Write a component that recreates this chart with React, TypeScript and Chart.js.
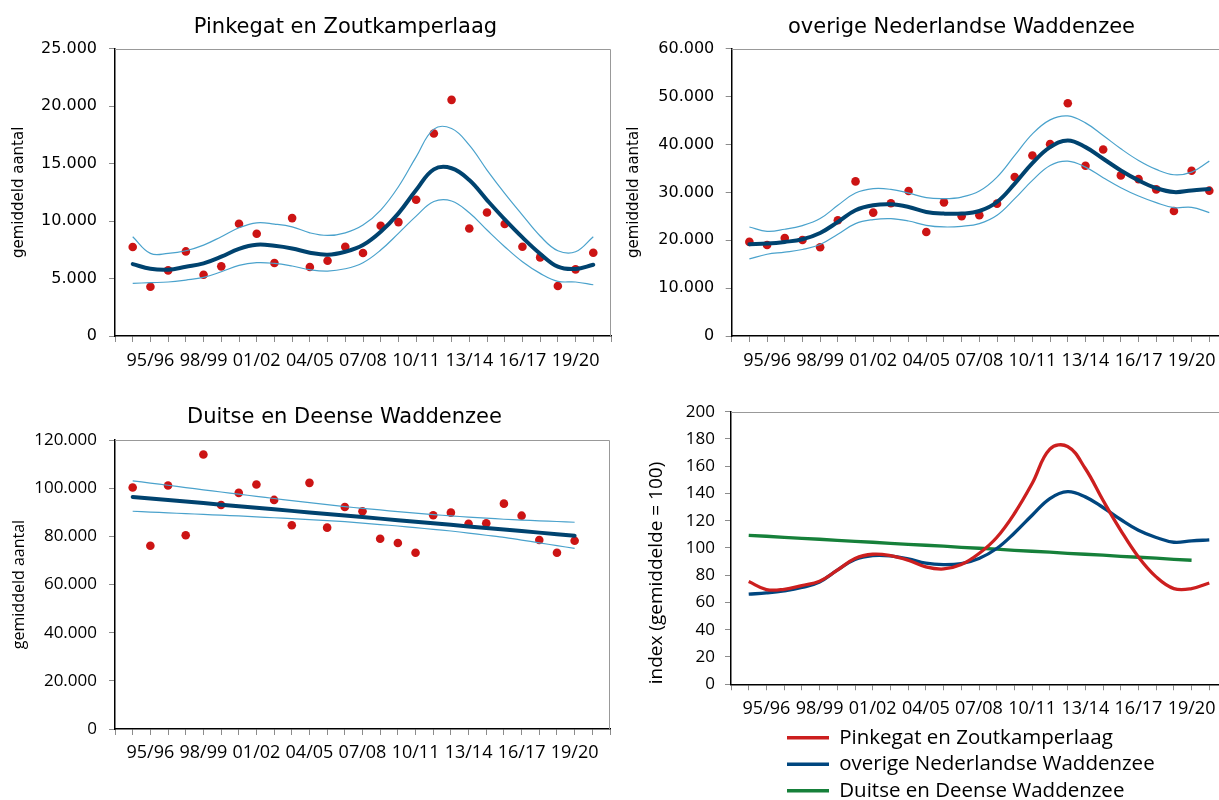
import React, { useEffect, useRef } from 'react';
import { Chart, registerables } from 'chart.js';

Chart.register(...registerables);

// ---------- data ----------
const seasons = [
  '94/95', '95/96', '96/97', '97/98', '98/99', '99/00', '00/01', '01/02', '02/03',
  '03/04', '04/05', '05/06', '06/07', '07/08', '08/09', '09/10', '10/11', '11/12',
  '12/13', '13/14', '14/15', '15/16', '16/17', '17/18', '18/19', '19/20', '20/21',
];
const tickLabels = ['95/96', '98/99', '01/02', '04/05', '07/08', '10/11', '13/14', '16/17', '19/20'];

// Pinkegat en Zoutkamperlaag
const pinkCounts = [7740, 4290, 5710, 7360, 5330, 6060, 9770, 8900, 6350, 10260, 6000, 6550, 7770, 7220, 9590, 9910, 11850, 17620, 20550, 9360, 10750, 9740, 7770, 6840, 4350, 5800, 7250];
const pinkTrend = [6260, 5850, 5770, 6030, 6320, 6900, 7590, 7940, 7850, 7620, 7250, 7070, 7330, 7910, 9070, 10670, 12700, 14500, 14600, 13570, 11830, 10150, 8580, 7160, 6030, 5830, 6200];
const pinkUpper = [8640, 7190, 7190, 7420, 7910, 8640, 9420, 9850, 9740, 9500, 8980, 8750, 8980, 9650, 10960, 12990, 15590, 18000, 18050, 16610, 14440, 12410, 10520, 8700, 7420, 7330, 8640];
const pinkLower = [4580, 4640, 4700, 4870, 5100, 5590, 6150, 6380, 6320, 6090, 5770, 5650, 5850, 6380, 7480, 8930, 10430, 11700, 11750, 10720, 9220, 7770, 6460, 5450, 4760, 4700, 4460];

// overige Nederlandse Waddenzee
const nlCounts = [19650, 19020, 20480, 20060, 18540, 24170, 32290, 25770, 27710, 30270, 21730, 27910, 25000, 25210, 27640, 33190, 37710, 40070, 48600, 35560, 38960, 33540, 32770, 30620, 26100, 34510, 30350];
const nlTrend = [19170, 19310, 19650, 20210, 21520, 23810, 26250, 27290, 27500, 26940, 25900, 25560, 25560, 26100, 27980, 31810, 36100, 39440, 40830, 39440, 37020, 34580, 32500, 30900, 30060, 30410, 30690];
const nlUpper = [22770, 21870, 22290, 23060, 24520, 27290, 29850, 30770, 30620, 29850, 28890, 28680, 29020, 30270, 33190, 37710, 42220, 45140, 45970, 44510, 41870, 39100, 36660, 34790, 33680, 34230, 36520];
const nlLower = [16100, 17080, 17500, 18060, 19100, 21250, 23470, 24310, 24520, 24020, 23120, 22770, 22910, 23470, 25210, 28680, 32500, 35620, 36520, 35270, 33060, 30970, 29230, 27850, 26810, 26870, 25770];

// Duitse en Deense Waddenzee (t/m 19/20)
const deCounts = [100250, 76080, 101080, 80420, 114000, 93040, 98040, 101500, 95120, 84580, 102210, 83600, 92210, 90420, 79000, 77210, 73170, 88750, 89830, 85250, 85420, 93580, 88580, 78460, 73170, 78170];
const deTrend = [96380, 95730, 95090, 94440, 93800, 93150, 92510, 91860, 91220, 90570, 89930, 89280, 88640, 87990, 87350, 86700, 86060, 85410, 84770, 84120, 83480, 82830, 82190, 81540, 80900, 80250];
const deUpper = [103050, 102100, 101200, 100260, 99300, 98400, 97500, 96600, 95700, 94840, 94000, 93150, 92340, 91600, 90950, 90260, 89650, 89050, 88470, 88000, 87550, 87090, 86750, 86450, 86150, 85840];
const deLower = [90420, 90090, 89760, 89430, 89100, 88790, 88470, 88100, 87720, 87340, 86920, 86510, 86090, 85500, 84900, 84290, 83600, 82900, 82210, 81350, 80450, 79590, 78450, 77300, 76150, 75000];

// index (gemiddelde = 100)
const indexPink = [75.4, 69.5, 69.7, 72.4, 75.6, 83.7, 92.3, 95.4, 94.4, 91.0, 86.1, 84.6, 87.8, 95.9, 107.7, 125.3, 147.3, 172.5, 174.5, 158.3, 135.0, 113.0, 93.4, 78.8, 70.2, 70.2, 74.3];
const indexNL = [66.1, 67.0, 68.5, 71.0, 75.1, 83.7, 91.5, 94.4, 94.2, 92.0, 88.8, 87.8, 88.6, 92.3, 99.6, 111.0, 124.0, 136.3, 141.4, 137.5, 129.7, 120.9, 113.0, 107.7, 104.2, 105.2, 105.9];
const indexDE = [109.3, 108.6, 107.8, 107.1, 106.4, 105.6, 104.9, 104.2, 103.4, 102.7, 102.0, 101.3, 100.5, 99.8, 99.1, 98.3, 97.6, 96.9, 96.1, 95.4, 94.7, 93.9, 93.2, 92.5, 91.7, 91.0];

// ---------- helpers ----------
const axisLabels = ['', ...seasons, ''];
const pad = (arr: number[]) => {
  const out: (number | null)[] = [null, ...arr];
  while (out.length < axisLabels.length) out.push(null);
  return out;
};
const fmt = (v: number) => String(v).replace(/\B(?=(\d{3})+(?!\d))/g, '.');

const DOT = '#CC1414';
const TREND = '#00436F';
const BAND = '#4AA2CC';
const GRID = '#8c8c8c';

const plotBorder = {
  id: 'plotBorder',
  beforeDatasetsDraw(chart: any) {
    const { ctx, chartArea } = chart;
    const { left, top, right, bottom } = chartArea;
    ctx.save();
    ctx.strokeStyle = '#999999';
    ctx.lineWidth = 1;
    ctx.beginPath();
    ctx.moveTo(left, Math.round(top) + 0.5);
    ctx.lineTo(Math.round(right) - 0.5, Math.round(top) + 0.5);
    ctx.lineTo(Math.round(right) - 0.5, bottom);
    ctx.stroke();
    ctx.restore();
  },
};

const shiftBoxes = {
  id: 'shiftBoxes',
  afterLayout(chart: any, _args: any, opts: any) {
    if (opts && opts.titleDx && chart.titleBlock) {
      chart.titleBlock.left += opts.titleDx;
      chart.titleBlock.right += opts.titleDx;
    }
    if (opts && opts.legendDx && chart.legend) {
      chart.legend.left += opts.legendDx;
      chart.legend.right += opts.legendDx;
    }
  },
};

function xScale(xHeight: number, padding: number) {
  return {
    type: 'category',
    offset: false,
    grid: { drawOnChartArea: false, drawTicks: true, tickLength: 6, color: GRID, lineWidth: 1 },
    border: { display: true, color: '#000', width: 1.5 },
    ticks: {
      autoSkip: false,
      maxRotation: 0,
      minRotation: 0,
      padding,
      color: '#000',
      font: { family: 'Open Sans', size: 18 },
      callback: (_v: any, i: number) => (tickLabels.includes(axisLabels[i]) ? axisLabels[i] : ''),
    },
    afterFit: (s: any) => { s.height = xHeight; },
  };
}

function yScale(o: {
  max: number; step: number; width: number; tickFont: any; tickPad: number;
  title: string; titleFont: any; titlePad: number; format?: boolean; titleAlign?: string;
}) {
  return {
    min: 0,
    max: o.max,
    grid: { drawOnChartArea: false, drawTicks: true, tickLength: 6, color: GRID, lineWidth: 1 },
    border: { display: true, color: '#000', width: 1.5 },
    ticks: {
      stepSize: o.step,
      padding: o.tickPad,
      color: '#000',
      font: o.tickFont,
      callback: (v: any) => (o.format === false ? String(v) : fmt(Number(v))),
    },
    title: {
      display: true,
      text: o.title,
      color: '#000',
      font: o.titleFont,
      align: o.titleAlign || 'center',
      padding: { top: o.titlePad, bottom: 0 },
    },
    afterFit: (s: any) => { s.width = o.width; },
  };
}

const band = (arr: number[], tension = 0.4) => ({
  data: pad(arr), borderColor: BAND, borderWidth: 1.2, pointRadius: 0, tension, fill: false,
});
const trend = (arr: number[], tension = 0.4) => ({
  data: pad(arr), borderColor: TREND, borderWidth: 4, pointRadius: 0, tension, fill: false,
  borderCapStyle: 'round',
});
const dots = (arr: number[]) => ({
  data: pad(arr), showLine: false, pointRadius: 4.3, pointBorderWidth: 0,
  pointBackgroundColor: DOT, borderColor: DOT,
});

const titleOpts = (text: string, top: number, bottom: number) => ({
  display: true,
  text,
  color: '#000',
  font: { family: 'DejaVu Sans', size: 21, weight: 'normal' },
  padding: { top, bottom },
});

// ---------- configs ----------
const configA: any = {
  type: 'line',
  data: {
    labels: axisLabels,
    datasets: [band(pinkUpper), band(pinkLower), trend(pinkTrend), dots(pinkCounts)],
  },
  options: {
    animation: false,
    responsive: false,
    layout: { padding: { left: 0, right: 9, top: 0, bottom: 0 } },
    plugins: {
      legend: { display: false },
      tooltip: { enabled: false },
      title: titleOpts('Pinkegat en Zoutkamperlaag', 15, 8.5),
      shiftBoxes: { titleDx: 40 },
    },
    scales: {
      x: xScale(44, 8.5),
      y: yScale({
        max: 25000, step: 5000, width: 115, tickFont: { family: 'DejaVu Sans', size: 16 }, tickPad: 12,
        title: 'gemiddeld aantal', titleFont: { family: 'DejaVu Sans', size: 15 }, titlePad: 10,
      }),
    },
  },
  plugins: [plotBorder, shiftBoxes],
};

const configB: any = {
  type: 'line',
  data: {
    labels: axisLabels,
    datasets: [band(nlUpper), band(nlLower), trend(nlTrend), dots(nlCounts)],
  },
  options: {
    animation: false,
    responsive: false,
    layout: { padding: { left: 0, right: 9, top: 0, bottom: 0 } },
    plugins: {
      legend: { display: false },
      tooltip: { enabled: false },
      title: titleOpts('overige Nederlandse Waddenzee', 15, 8.5),
      shiftBoxes: { titleDx: 38 },
    },
    scales: {
      x: xScale(44, 8.5),
      y: yScale({
        max: 60000, step: 10000, width: 111.7, tickFont: { family: 'DejaVu Sans', size: 16 }, tickPad: 11.4,
        title: 'gemiddeld aantal', titleFont: { family: 'DejaVu Sans', size: 15 }, titlePad: 5,
      }),
    },
  },
  plugins: [plotBorder, shiftBoxes],
};

const configC: any = {
  type: 'line',
  data: {
    labels: axisLabels,
    datasets: [band(deUpper, 0.2), band(deLower, 0.2), trend(deTrend, 0), dots(deCounts)],
  },
  options: {
    animation: false,
    responsive: false,
    layout: { padding: { left: 0, right: 10, top: 0, bottom: 0 } },
    plugins: {
      legend: { display: false },
      tooltip: { enabled: false },
      title: titleOpts('Duitse en Deense Waddenzee', 25.4, 9.4),
      shiftBoxes: { titleDx: 39.5 },
    },
    scales: {
      x: xScale(71, 7.5),
      y: yScale({
        max: 120000, step: 20000, width: 115, tickFont: { family: 'Open Sans', size: 17 }, tickPad: 12,
        title: 'gemiddeld aantal', titleFont: { family: 'Open Sans', size: 16 }, titlePad: 9.4,
      }),
    },
  },
  plugins: [plotBorder, shiftBoxes],
};

const configD: any = {
  type: 'line',
  data: {
    labels: axisLabels,
    datasets: [
      { label: 'Pinkegat en Zoutkamperlaag', data: pad(indexPink), borderColor: '#CC1F1F', backgroundColor: '#CC1F1F', borderWidth: 3.3, pointRadius: 0, tension: 0.4 },
      { label: 'overige Nederlandse Waddenzee', data: pad(indexNL), borderColor: '#00467F', backgroundColor: '#00467F', borderWidth: 3.3, pointRadius: 0, tension: 0.4 },
      { label: 'Duitse en Deense Waddenzee', data: pad(indexDE), borderColor: '#16803A', backgroundColor: '#16803A', borderWidth: 3.3, pointRadius: 0, tension: 0 },
    ],
  },
  options: {
    animation: false,
    responsive: false,
    layout: { padding: { left: 0, right: 9, top: 31.7, bottom: 0 } },
    plugins: {
      tooltip: { enabled: false },
      title: { display: false },
      legend: {
        display: true,
        position: 'bottom',
        align: 'start',
        labels: {
          usePointStyle: true,
          pointStyle: 'line',
          pointStyleWidth: 42,
          boxHeight: 20.5,
          padding: 6,
          color: '#000',
          font: { family: 'Open Sans', size: 20.5 },
        },
      },
      shiftBoxes: { legendDx: 161 },
    },
    scales: {
      x: xScale(37.25, 7.5),
      y: yScale({
        max: 200, step: 20, width: 111, tickFont: { family: 'Open Sans', size: 17 }, tickPad: 10,
        title: 'index (gemiddelde = 100)', titleFont: { family: 'Open Sans', size: 19 }, titlePad: 25.6,
        format: false, titleAlign: 'start',
      }),
    },
  },
  plugins: [plotBorder, shiftBoxes],
};

// ---------- components ----------
function ChartCanvas(props: { config: any; left: number; top: number; width: number; height: number }) {
  const ref = useRef<HTMLCanvasElement | null>(null);
  useEffect(() => {
    if (!ref.current) return;
    const chart = new Chart(ref.current, props.config);
    return () => chart.destroy();
  }, []);
  return (
    <canvas
      ref={ref}
      width={props.width}
      height={props.height}
      style={{ position: 'absolute', left: props.left, top: props.top, width: props.width, height: props.height }}
    />
  );
}

export default function App() {
  return (
    <div style={{ position: 'absolute', left: 0, top: 0, width: 1219, height: 800, overflow: 'hidden', background: '#fff' }}>
      <ChartCanvas config={configA} left={0} top={0} width={620} height={380} />
      <ChartCanvas config={configB} left={620} top={0} width={616} height={380} />
      <ChartCanvas config={configC} left={0} top={380} width={620} height={420} />
      <ChartCanvas config={configD} left={620} top={380} width={616} height={431} />
    </div>
  );
}
